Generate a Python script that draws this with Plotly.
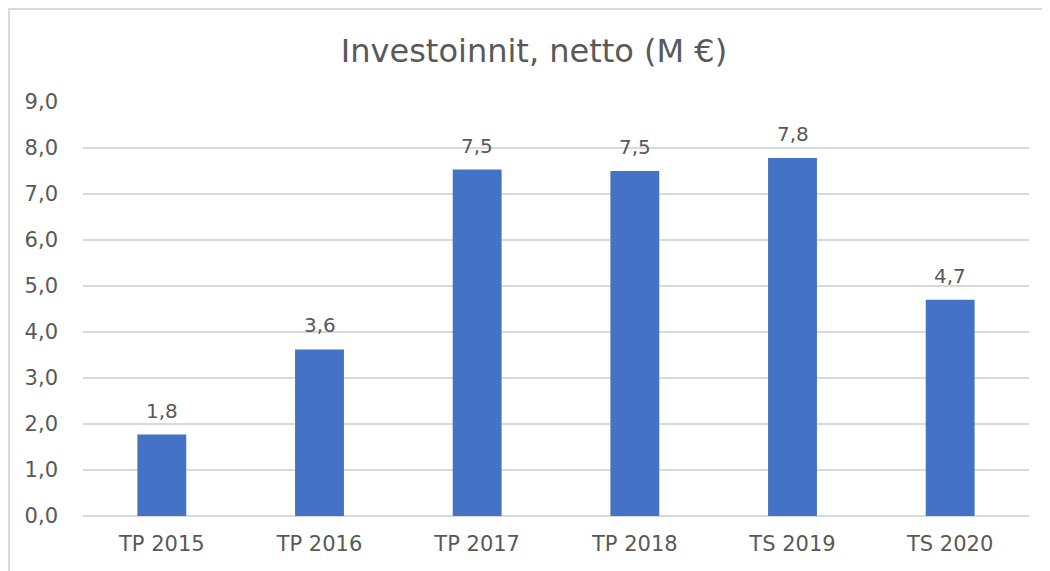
import plotly.graph_objects as go

categories = ["TP 2015", "TP 2016", "TP 2017", "TP 2018", "TS 2019", "TS 2020"]
values = [1.77, 3.62, 7.53, 7.50, 7.78, 4.70]
y_ticks = [0, 1, 2, 3, 4, 5, 6, 7, 8, 9]
title_text = "Investoinnit, netto (M €)"

FONT = "DejaVu Sans"
TXT = "#595959"

W, H = 1042, 563
L, T, R, B = 75, 94, 21, 55
PW, PH = W - L - R, H - T - B

fig = go.Figure()
fig.add_trace(go.Bar(
    x=categories, y=values,
    marker=dict(color="#4472C4", line=dict(width=0)),
    width=0.31,
    hoverinfo="x+y",
))

for c, v in zip(categories, values):
    fig.add_annotation(
        x=c, y=v, text=f"{v:.1f}".replace(".", ","),
        showarrow=False, yanchor="bottom", yshift=10,
        font=dict(family=FONT, size=20, color=TXT),
    )

fig.update_layout(
    width=W, height=H,
    margin=dict(l=L, r=R, t=T, b=B),
    paper_bgcolor="white", plot_bgcolor="white",
    separators=",.",
    showlegend=False,
    title=dict(text=title_text, x=526 / W, xanchor="center", y=1 - 43 / H, yanchor="middle",
               font=dict(family=FONT, size=32, color=TXT)),
    font=dict(family=FONT, size=21, color=TXT),
    xaxis=dict(showgrid=False, showline=False, ticks="", tickfont=dict(family=FONT, size=21, color=TXT),
               ticklabelstandoff=13),
    yaxis=dict(range=[0, 9], tickvals=y_ticks, tickformat=".1f", showgrid=True, gridcolor="#D9D9D9",
               gridwidth=2, zeroline=True, zerolinecolor="#D9D9D9", zerolinewidth=2, showline=False,
               ticks="", ticklabelstandoff=24, tickfont=dict(family=FONT, size=21, color=TXT)),
    shapes=[dict(type="rect", xref="paper", yref="paper",
                 x0=(1 - L) / PW, x1=(W + 20 - L) / PW, y0=-(B + 20) / PH, y1=(PH + T - 1) / PH,
                 line=dict(color="#D9D9D9", width=2), fillcolor="rgba(0,0,0,0)", layer="below")],
)

fig.write_html("out.html")
